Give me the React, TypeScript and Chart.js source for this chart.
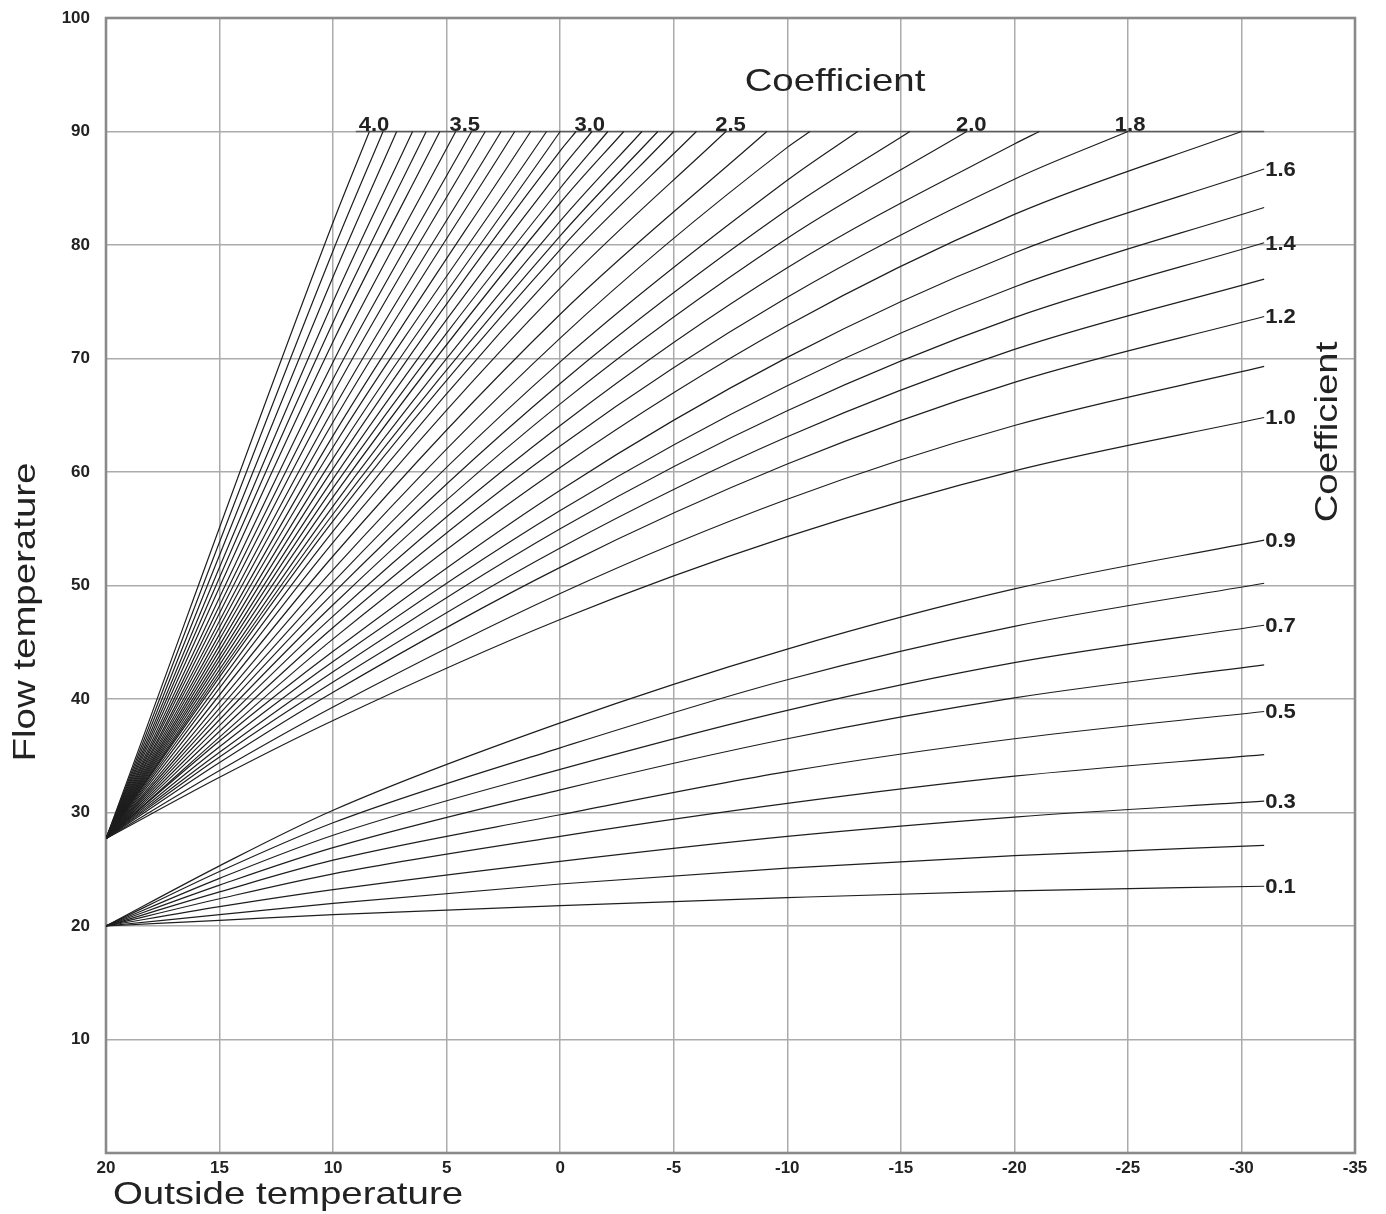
import React, { useEffect, useRef } from "react";
import { Chart, registerables } from "chart.js";

Chart.register(...registerables);

// ---- axes ----
const xMin = -35;
const xMax = 20;
const xStep = 5;
const yMin = 0;
const yMax = 100;
const yStep = 10;

// ---- curves that run to -31 °C ----
const curveX = [20, 15, 10, 0, -10, -20, -31];

const lowerNames = ["0.1", "0.2", "0.3", "0.4", "0.5", "0.6", "0.7", "0.8", "0.9"];
const lowerValues = [
  [20, 20.5, 21.0, 21.8, 22.5, 23.1, 23.5],
  [20, 21.0, 22.0, 23.7, 25.1, 26.2, 27.1],
  [20, 21.7, 23.2, 25.7, 27.9, 29.6, 31.0],
  [20, 22.4, 24.6, 27.9, 30.8, 33.2, 35.1],
  [20, 23.0, 25.8, 29.8, 33.6, 36.5, 38.9],
  [20, 23.6, 26.9, 32.0, 36.5, 40.1, 43.0],
  [20, 24.2, 28.0, 33.8, 39.0, 43.2, 46.5],
  [20, 24.8, 29.1, 35.7, 41.7, 46.4, 50.2],
  [20, 25.3, 30.2, 37.9, 44.4, 49.7, 54.0],
];

const upperNames = ["1.0", "1.1", "1.2", "1.3", "1.4", "1.5", "1.6"];
const upperValues = [
  [27.7, 33.1, 38.1, 47.0, 54.3, 60.1, 64.8],
  [27.7, 33.7, 39.3, 49.3, 57.6, 64.1, 69.3],
  [27.7, 34.4, 40.6, 51.6, 60.7, 67.9, 73.7],
  [27.7, 34.9, 41.5, 53.3, 63.1, 70.8, 77.0],
  [27.7, 35.3, 42.4, 55.0, 65.4, 73.6, 80.2],
  [27.7, 35.8, 43.3, 56.6, 67.6, 76.3, 83.3],
  [27.7, 36.3, 44.2, 58.4, 70.1, 79.3, 86.7],
];

// ---- steep curves that stop at the 90 °C cap (4.0 ... 1.7) ----
const cappedStart = 27.7;
const capLevel = 90;
const cappedEndX = [
  8.4, 7.8, 7.2, 6.5, 5.9, 5.3, 4.6, 3.9, 3.3, 2.6, 2.0, 1.3, 0.6, 0.0, -0.7, -1.4,
  -2.1, -2.8, -3.6, -4.3, -5.0, -6.0, -7.3, -9.1, -11.0, -13.1, -15.4, -17.9, -21.1, -25.0, -30.0,
];
const cappedAt10 = [
  82.0, 79.5, 77.2, 75.0, 73.2, 71.5, 69.7, 68.2, 66.9, 65.5, 64.4, 63.2, 62.2, 61.2, 60.3, 59.4,
  58.6, 57.8, 57.0, 56.3, 55.7, 54.8, 53.8, 52.6, 51.4, 50.3, 49.3, 48.3, 47.3, 46.3, 45.3,
];
const cappedAt0 = [
  null, null, null, null, null, null, null, null, null, null, null, null, null, null, 88.3, 86.6,
  85.0, 83.7, 82.1, 80.8, 79.6, 78.1, 76.2, 73.9, 71.8, 69.7, 67.8, 66.0, 64.1, 62.3, 60.4,
];
const cappedAtMinus10 = [
  null, null, null, null, null, null, null, null, null, null, null, null, null, null, null, null,
  null, null, null, null, null, null, null, null, 88.6, 85.7, 83.1, 80.6, 78.0, 75.4, 72.9,
];
const cappedAtMinus20 = [
  null, null, null, null, null, null, null, null, null, null, null, null, null, null, null, null,
  null, null, null, null, null, null, null, null, null, null, null, null, 88.9, 85.8, 82.7,
];
const capLineX = [9, -31];

// ---- labels ----
const sideLabels = ["1.6", "1.4", "1.2", "1.0", "0.9", "0.7", "0.5", "0.3", "0.1"];
const topLabels = ["4.0", "3.5", "3.0", "2.5", "2.0", "1.8"];
const topLabelX = [8.2, 4.2, -1.3, -7.5, -18.1, -25.1];
const xTitle = "Outside temperature";
const yTitle = "Flow temperature";
const coefTitle = "Coefficient";

const LINE = "#1e1e1e";
const TEXT = "#222222";
const FONT = '"Liberation Sans", Arial, sans-serif';

function buildDatasets() {
  const ds: any[] = [];
  const base = {
    showLine: true,
    fill: false,
    borderColor: LINE,
    borderWidth: 1.2,
    pointRadius: 0,
    cubicInterpolationMode: "monotone",
  };
  lowerValues.forEach((vals, i) => {
    ds.push({ ...base, label: lowerNames[i], data: vals.map((v, j) => ({ x: curveX[j], y: v })) });
  });
  upperValues.forEach((vals, i) => {
    ds.push({ ...base, label: upperNames[i], data: vals.map((v, j) => ({ x: curveX[j], y: v })) });
  });
  cappedEndX.forEach((ex, i) => {
    const pts: any[] = [{ x: 20, y: cappedStart }];
    if (ex < 10) pts.push({ x: 10, y: cappedAt10[i] });
    if (cappedAt0[i] !== null) pts.push({ x: 0, y: cappedAt0[i] });
    if (cappedAtMinus10[i] !== null) pts.push({ x: -10, y: cappedAtMinus10[i] });
    if (cappedAtMinus20[i] !== null) pts.push({ x: -20, y: cappedAtMinus20[i] });
    pts.push({ x: ex, y: capLevel });
    ds.push({ ...base, label: "cap" + i, data: pts });
  });
  ds.push({
    ...base,
    label: "cap",
    borderColor: "#5a5a5a",
    borderWidth: 1.6,
    cubicInterpolationMode: "default",
    data: capLineX.map((x) => ({ x, y: capLevel })),
  });
  return ds;
}

function drawText(ctx: any, text: string, x: number, y: number, font: string, angle: number, sx: number, align = "center", baseline = "middle") {
  ctx.save();
  ctx.translate(x, y);
  ctx.rotate(angle);
  ctx.scale(sx, 1);
  ctx.font = font;
  ctx.fillStyle = TEXT;
  ctx.textAlign = align;
  ctx.textBaseline = baseline;
  ctx.fillText(text, 0, 0);
  ctx.restore();
}

const framePlugin = {
  id: "frame",
  beforeDatasetsDraw(chart: any) {
    const { ctx, chartArea } = chart;
    ctx.save();
    ctx.strokeStyle = "#8a8a8a";
    ctx.lineWidth = 2.6;
    ctx.strokeRect(chartArea.left, chartArea.top, chartArea.right - chartArea.left, chartArea.bottom - chartArea.top);
    ctx.restore();
  },
};

const labelPlugin = {
  id: "labels",
  afterDraw(chart: any) {
    const { ctx } = chart;
    const xs = chart.scales.x;
    const ys = chart.scales.y;
    sideLabels.forEach((name) => {
      let vals: number[] | undefined;
      const li = lowerNames.indexOf(name);
      if (li >= 0) vals = lowerValues[li];
      const ui = upperNames.indexOf(name);
      if (ui >= 0) vals = upperValues[ui];
      if (!vals) return;
      const px = xs.getPixelForValue(curveX[curveX.length - 1]);
      const py = ys.getPixelForValue(vals[vals.length - 1]);
      drawText(ctx, name, px + 1, py + 1, "bold 21px " + FONT, 0, 1.05, "left", "middle");
    });
    const capY = ys.getPixelForValue(capLevel);
    topLabels.forEach((name, i) => {
      drawText(ctx, name, xs.getPixelForValue(topLabelX[i]), capY - 1, "bold 21px " + FONT, 0, 1.05, "center", "alphabetic");
    });
    drawText(ctx, coefTitle, 835, 82, "32px " + FONT, 0, 1.2);
    drawText(ctx, coefTitle, 1328, 432, "32px " + FONT, -Math.PI / 2, 1.2);
    drawText(ctx, yTitle, 26, 612, "32px " + FONT, -Math.PI / 2, 1.2);
    drawText(ctx, xTitle, 288, 1195, "32px " + FONT, 0, 1.2);
  },
};

export default function App() {
  const ref = useRef<HTMLCanvasElement | null>(null);
  useEffect(() => {
    if (!ref.current) return;
    const tickFont = { family: FONT, size: 17, weight: "bold" as const };
    const chart = new Chart(ref.current, {
      type: "scatter",
      data: { datasets: buildDatasets() },
      options: {
        animation: false,
        responsive: false,
        devicePixelRatio: 1,
        layout: { padding: { left: 0, right: 31, top: 18, bottom: 8 } },
        plugins: { legend: { display: false }, tooltip: { enabled: false } },
        elements: { point: { radius: 0 } },
        scales: {
          x: {
            type: "linear",
            reverse: true,
            min: xMin,
            max: xMax,
            ticks: { stepSize: xStep, font: tickFont, color: TEXT, padding: 5, callback: (v: any) => String(v) },
            grid: { color: "#ababab", lineWidth: 1.5, drawTicks: false },
            border: { display: false },
            afterFit: (s: any) => {
              s.height = 53;
              s.paddingLeft = 0;
              s.paddingRight = 0;
            },
          },
          y: {
            type: "linear",
            min: yMin,
            max: yMax,
            ticks: {
              stepSize: yStep,
              font: tickFont,
              color: TEXT,
              padding: 16,
              callback: (v: any) => (v === 0 ? "" : String(v)),
            },
            grid: { color: "#ababab", lineWidth: 1.5, drawTicks: false },
            border: { display: false },
            afterFit: (s: any) => {
              s.width = 106;
              s.paddingTop = 0;
              s.paddingBottom = 0;
            },
          },
        },
      } as any,
      plugins: [framePlugin, labelPlugin],
    });
    return () => chart.destroy();
  }, []);
  return (
    <canvas
      ref={ref}
      width={1386}
      height={1214}
      style={{ display: "block", position: "fixed", left: 0, top: 0, background: "#ffffff" }}
    />
  );
}
